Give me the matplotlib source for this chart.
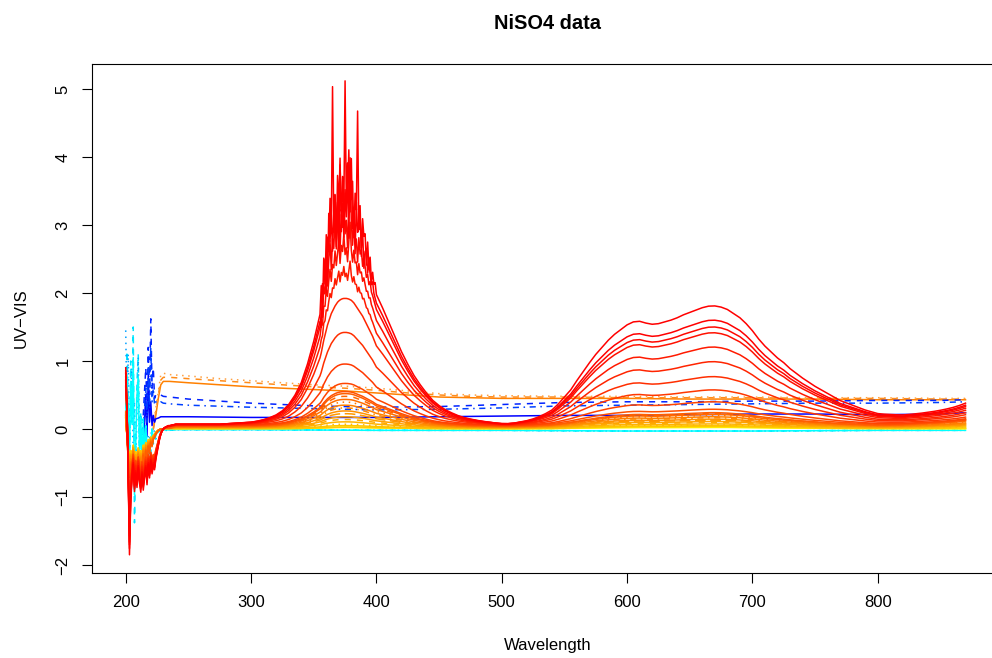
import numpy as np
import matplotlib
matplotlib.use("Agg")
import matplotlib.pyplot as plt

plt.rcParams['font.family'] = ['Liberation Sans', 'DejaVu Sans']

# ---------------- data ----------------
# wavelength grids
wl_left = np.arange(200, 236)                      # 1 nm steps, 200..235
wl_mid = np.concatenate([np.arange(240, 355, 5),   # 240..350
                         np.arange(355, 401),      # 355..400 (1 nm)
                         np.arange(405, 871, 5)])  # 405..870

# band near 375 nm (normalised)
band1_rise = [0, 0, 0, 0, 0, 0, 0, 0, 0.002, 0.004, 0.006, 0.008, 0.01, 0.015, 0.022,
              0.032, 0.045, 0.065, 0.095, 0.14, 0.2, 0.29, 0.40]
band1_top = [0.53, 0.57, 0.62, 0.67, 0.71, 0.75, 0.79, 0.82, 0.85, 0.88, 0.90, 0.92, 0.94,
             0.955, 0.97, 0.98, 0.988, 0.994, 0.998, 1.0, 1.0, 1.0, 0.998, 0.995, 0.99,
             0.985, 0.975, 0.965, 0.95, 0.935, 0.92, 0.905, 0.89, 0.875, 0.86, 0.84, 0.82,
             0.80, 0.78, 0.76, 0.74, 0.72, 0.70, 0.675, 0.65, 0.625]
band1_fall = [0.56, 0.49, 0.42, 0.35, 0.29, 0.235, 0.19, 0.15, 0.115, 0.09, 0.07, 0.055,
              0.042, 0.032, 0.025, 0.019, 0.014, 0.01, 0.006, 0.003]
# double band 600-700 nm (normalised, 500..870 step 5)
band2 = [0.0, 0.005, 0.01, 0.02, 0.03, 0.045, 0.065, 0.09, 0.12, 0.17, 0.23, 0.29, 0.37,
         0.445, 0.52, 0.59, 0.65, 0.71, 0.76, 0.80, 0.84, 0.865, 0.87, 0.855, 0.845, 0.85,
         0.865, 0.88, 0.90, 0.925, 0.945, 0.965, 0.985, 0.998, 1.0, 0.99, 0.97, 0.935, 0.9,
         0.85, 0.79, 0.72, 0.66, 0.61, 0.56, 0.52, 0.47, 0.43, 0.39, 0.355, 0.32, 0.29,
         0.26, 0.23, 0.2, 0.18, 0.16, 0.14, 0.12, 0.105, 0.09, 0.08, 0.07, 0.06, 0.05,
         0.045, 0.04, 0.035, 0.03, 0.025, 0.02, 0.015, 0.01, 0.005, 0.0]
# rise at the red end (800..870 step 5)
tail = [0.0, 0.03, 0.07, 0.11, 0.16, 0.21, 0.27, 0.33, 0.40, 0.47, 0.55, 0.64, 0.74, 0.86, 1.0]

# detector noise on the saturated 375 nm band (355..400, 1 nm)
noise_a = [0.0, 0.3, -0.2, 0.4, -0.1, 0.5, -0.3, 0.6, 0.1, 0.4, -0.2, 0.3, 0.5, -0.3, 0.7,
           0.2, 0.9, -0.2, 0.6, 0.1, 2.0, 0.2, 0.8, -0.3, 0.9, 0.3, 0.6, -0.2, 0.5, 0.3, 1.8,
           0.1, 0.5, -0.2, 0.4, 0.2, 0.3, -0.1, 0.3, 0.0, 0.2, -0.1, 0.1, 0.0, 0.1, 0.0]
noise_b = [0.0, -0.2, 0.3, 0.1, 0.4, -0.2, 0.5, 0.2, 0.9, 0.3, 2.4, 0.2, 0.7, 0.1, 0.5,
           -0.2, 1.0, 0.3, 0.4, -0.1, 0.6, 0.2, 0.5, 1.2, 0.3, 1.1, 0.1, 0.4, -0.2, 0.6, 0.2,
           0.3, 0.5, 0.1, 0.4, -0.1, 0.2, 0.3, 0.0, 0.2, 0.1, 0.0, 0.1, 0.0, 0.0, 0.0]
noise_c = [0.0, 0.1, -0.1, 0.2, 0.0, 0.3, -0.1, 0.2, 0.4, -0.1, 0.3, 0.1, 0.5, 0.0, 0.3,
           0.6, -0.1, 0.4, 0.2, 0.7, 0.1, 0.3, -0.1, 0.5, 1.1, 0.3, 0.0, 0.4, 0.1, 0.2, -0.1,
           0.3, 0.1, 0.2, 0.0, 0.2, 0.1, 0.0, 0.1, 0.0, 0.1, 0.0, 0.0, 0.0, 0.0, 0.0]

# noisy far-UV region (200..235 nm)
red_left = [0.9, 0.35, -0.7, -1.85, -1.05, -0.75, -0.55, -0.92, -0.68, -0.86, -0.6, -0.8,
            -0.93, -0.7, -0.9, -0.72, -0.6, -0.82, -0.55, -0.72, -0.5, -0.66, -0.55, -0.6,
            -0.45, -0.35, -0.25, -0.15, -0.08, -0.03, 0.0, 0.02, 0.03, 0.04, 0.05, 0.05]
yellow_left = [0.2, -0.1, -0.35, -0.55, -0.4, -0.5, -0.3, -0.58, -0.42, -0.55, -0.35, -0.5,
               -0.4, -0.48, -0.3, -0.42, -0.25, -0.35, -0.2, -0.28, -0.15, -0.2, -0.12,
               -0.1, -0.06, -0.04, -0.02, -0.01, 0.0, 0.0, 0.0, 0.01, 0.01, 0.01, 0.01, 0.01]
cyan_left = [0.3, 1.15, 0.4, -0.6, 1.0, 0.1, 1.5, -1.38, -0.3, 0.7, 1.1, -0.55, 0.25, -0.75,
             0.15, -0.45, 0.05, -0.35, -0.5, -0.2, -0.38, 0.0, -0.22, -0.1, -0.15, -0.06,
             -0.05, -0.03, -0.02, -0.02, -0.02, -0.02, -0.02, -0.02, -0.02, -0.02]
sky_left = [1.45, 0.2, 1.1, -0.3, 0.5, 0.9, -0.2, 0.4, -0.6, 0.3, 1.05, -0.3, 0.2, -0.4, 0.1,
            -0.3, 0.0, -0.2, -0.1, -0.15, -0.05, -0.08, -0.03, -0.03, -0.02, -0.02, -0.02,
            -0.02, -0.02, -0.02, -0.02, -0.02, -0.02, -0.02, -0.02, -0.02]

# red spectra (largest first)
red_A1 = [3.05, 2.85, 2.7, 2.45, 2.15, 1.86, 1.36, 0.9, 0.62, 0.5]
red_A2 = [1.74, 1.53, 1.43, 1.35, 1.14, 0.93, 0.71, 0.52, 0.35, 0.24]
red_T = [0.31, 0.28, 0.26, 0.24, 0.21, 0.18, 0.15, 0.12, 0.1, 0.08]
red_base = [0.07, 0.07, 0.07, 0.065, 0.065, 0.06, 0.06, 0.055, 0.05, 0.05]
red_left_scale = [1.0, 0.95, 0.9, 0.92, 0.85, 0.8, 0.78, 0.75, 0.7, 0.68]
red_noise_key = ['a', 'b', 'c', 'c', 'c', None, None, None, None, None]
red_noise_scale = [1.0, 1.0, 1.0, 0.5, 0.25, 0, 0, 0, 0, 0]
red_colors = ['#FF0000', '#FF0000', '#FF0800', '#FF1000', '#FF1A00', '#FF2400', '#FF2E00',
              '#FF3800', '#FF4400', '#FF5000']
red_styles = ['solid'] * 10

# orange / yellow spectra
orange_A1 = [0.48, 0.44, 0.40, 0.36, 0.32, 0.28, 0.24, 0.20, 0.16, 0.12, 0.09, 0.06, 0.04, 0.02]
orange_A2 = [0.20, 0.19, 0.18, 0.165, 0.15, 0.135, 0.12, 0.105, 0.09, 0.075, 0.06, 0.05, 0.04, 0.03]
orange_T = [0.1, 0.09, 0.08, 0.07, 0.06, 0.05, 0.05, 0.04, 0.04, 0.03, 0.03, 0.02, 0.02, 0.01]
orange_base = [0.04, 0.04, 0.035, 0.035, 0.03, 0.03, 0.025, 0.025, 0.02, 0.02, 0.015, 0.01,
               0.01, 0.005]
orange_left_scale = [1.3, 1.25, 1.2, 1.15, 1.1, 1.05, 1.0, 1.0, 0.95, 0.9, 0.9, 0.85, 0.8, 0.8]
orange_colors = ['#FF5E00', '#FF6600', '#FF6E00', '#FF7700', '#FF8000', '#FF8800', '#FF9100',
                 '#FF9900', '#FFA200', '#FFAA00', '#FFB300', '#FFBB00', '#FFC400', '#FFCC00']
orange_styles = ['solid', 'dashed', 'solid', 'dotted', 'solid', 'dotdash', 'solid',
                 'longdash', 'solid', 'dashed', 'solid', 'dotted', 'solid', 'solid']

# yellow and cyan near-zero spectra
yellow_colors = ['#FFE600', '#FFFF00']
cyan_mid_wl = [240, 300, 400, 500, 600, 700, 800, 870]
cyan_mid = [-0.01, -0.01, -0.02, -0.02, -0.03, -0.03, -0.02, -0.02]

# flat blue spectra
blue_wl = [214, 216, 217, 218, 219, 220, 221, 222, 223, 224, 226, 228, 230, 235, 250, 300,
           350, 400, 450, 500, 550, 600, 650, 700, 750, 800, 850, 870]
blue_solid = [-0.3, 0.5, -0.1, 0.8, 0.1, 0.4, 0.05, 0.2, 0.1, 0.15, 0.16, 0.18, 0.18, 0.18,
              0.18, 0.17, 0.17, 0.17, 0.18, 0.19, 0.2, 0.2, 0.21, 0.22, 0.22, 0.21, 0.22, 0.24]
blue_dashed = [0.2, 0.9, 0.3, 1.2, 0.5, 1.62, 0.6, 0.9, 0.45, 0.5, 0.48, 0.5, 0.48, 0.47,
               0.44, 0.38, 0.34, 0.32, 0.33, 0.36, 0.39, 0.4, 0.4, 0.41, 0.41, 0.42, 0.42, 0.43]
blue_dotdash = [0.0, 0.6, 0.1, 0.9, 0.3, 1.2, 0.4, 0.6, 0.35, 0.4, 0.38, 0.4, 0.38, 0.37,
                0.35, 0.32, 0.3, 0.28, 0.29, 0.31, 0.34, 0.35, 0.36, 0.37, 0.38, 0.38, 0.39, 0.4]

# flat orange spectra
oflat_wl = [222, 224, 226, 228, 230, 235, 250, 275, 300, 325, 350, 375, 400, 425, 450, 475,
            500, 550, 600, 650, 700, 750, 800, 850, 870]
oflat_dotted = [0.05, 0.3, 0.55, 0.8, 0.82, 0.8, 0.78, 0.74, 0.71, 0.68, 0.65, 0.63, 0.6,
                0.56, 0.52, 0.5, 0.49, 0.48, 0.48, 0.47, 0.47, 0.46, 0.46, 0.45, 0.45]
oflat_dashed = [0.0, 0.25, 0.5, 0.72, 0.76, 0.76, 0.74, 0.71, 0.68, 0.65, 0.62, 0.6, 0.57,
                0.53, 0.5, 0.48, 0.47, 0.47, 0.46, 0.46, 0.46, 0.45, 0.45, 0.44, 0.44]
oflat_solid = [0.0, 0.2, 0.45, 0.65, 0.7, 0.7, 0.68, 0.65, 0.62, 0.6, 0.58, 0.56, 0.53, 0.5,
               0.47, 0.46, 0.45, 0.45, 0.45, 0.44, 0.44, 0.44, 0.43, 0.43, 0.43]

x_ticks = [200, 300, 400, 500, 600, 700, 800]
y_ticks = [-2, -1, 0, 1, 2, 3, 4, 5]

# ---------------- assemble profiles on the grid ----------------
n_mid = len(wl_mid)
s1 = np.concatenate([band1_rise, band1_top, band1_fall, np.zeros(n_mid - 23 - 46 - 20)])
s2 = np.concatenate([np.zeros(n_mid - len(band2)), band2])
s3 = np.concatenate([np.zeros(n_mid - len(tail)), tail])
noise_map = {'a': noise_a, 'b': noise_b, 'c': noise_c}
x_full = np.concatenate([wl_left, wl_mid])

LS = {'solid': '-', 'dashed': (0, (4, 4)), 'dotted': (0, (1, 3)),
      'dotdash': (0, (1, 3, 4, 3)), 'longdash': (0, (7, 3))}
LW = 1.1

fig = plt.figure(figsize=(9.92, 6.58), dpi=100)
ax = fig.add_axes([92 / 992, 1 - 573 / 658, 911 / 992, 509 / 658])

# flat lines
ax.plot(oflat_wl, oflat_solid, color='#FF8000', lw=LW, ls=LS['solid'])
ax.plot(oflat_wl, oflat_dashed, color='#FF8C1A', lw=LW, ls=LS['dashed'])
ax.plot(oflat_wl, oflat_dotted, color='#FFA040', lw=LW, ls=LS['dotted'])
ax.plot(blue_wl, blue_solid, color='#0000FF', lw=LW, ls=LS['solid'])
ax.plot(blue_wl, blue_dashed, color='#0022FF', lw=LW, ls=LS['dashed'])
ax.plot(blue_wl, blue_dotdash, color='#0040FF', lw=LW, ls=LS['dotdash'])

# cyan lines
ax.plot(np.concatenate([wl_left, cyan_mid_wl]), np.concatenate([cyan_left, cyan_mid]),
        color='#00E5FF', lw=LW, ls=LS['dashed'])
ax.plot(np.concatenate([wl_left, cyan_mid_wl]), np.concatenate([sky_left, cyan_mid]),
        color='#00A0FF', lw=LW, ls=LS['dotted'])
ax.plot(np.concatenate([wl_left, cyan_mid_wl]),
        np.concatenate([np.array(cyan_left) * 0.7, cyan_mid]),
        color='#00FFFF', lw=LW, ls=LS['solid'])

# yellow lines
for k, c in enumerate(yellow_colors):
    y = np.concatenate([np.array(yellow_left) * (0.8 + 0.2 * k),
                        0.005 + 0.02 * s1 + 0.02 * s2])
    ax.plot(x_full, y, color=c, lw=LW, ls=LS['solid'])

# orange family (smallest first)
for i in range(len(orange_A1) - 1, -1, -1):
    y_mid = orange_base[i] + orange_A1[i] * s1 + orange_A2[i] * s2 + orange_T[i] * s3
    y_left = np.array(yellow_left) * orange_left_scale[i]
    ax.plot(x_full, np.concatenate([y_left, y_mid]), color=orange_colors[i], lw=LW,
            ls=LS[orange_styles[i]])

# red family (smallest first)
for i in range(len(red_A1) - 1, -1, -1):
    y_mid = red_base[i] + red_A1[i] * s1 + red_A2[i] * s2 + red_T[i] * s3
    if red_noise_key[i] is not None:
        nz = np.zeros(n_mid)
        nz[23:69] = np.array(noise_map[red_noise_key[i]]) * red_noise_scale[i]
        y_mid = y_mid + nz
    y_left = np.array(red_left) * red_left_scale[i]
    ax.plot(x_full, np.concatenate([y_left, y_mid]), color=red_colors[i], lw=LW,
            ls=LS[red_styles[i]])

# ---------------- axes styling (R base graphics look) ----------------
ax.set_xlim(173.1, 899.9)
ax.set_ylim(-2.118, 5.368)
ax.set_xticks(x_ticks)
ax.set_yticks(y_ticks)
ax.spines['right'].set_visible(False)
for s in ['left', 'bottom', 'top']:
    ax.spines[s].set_linewidth(0.8)
    ax.spines[s].set_color('black')
ax.tick_params(axis='both', direction='out', length=7.5, width=0.8, labelsize=12,
               pad=8, colors='black')
for lab in ax.get_yticklabels():
    lab.set_rotation(90)
    lab.set_va('center')

fig.text(547.5 / 992, 1 - 29 / 658, 'NiSO4 data', ha='center', va='baseline',
         fontsize=14.4, fontweight='bold')
fig.text(547.5 / 992, 1 - 650 / 658, 'Wavelength', ha='center', va='baseline', fontsize=12)
fig.text(21 / 992, 1 - 318.5 / 658, 'UV\u2212VIS', ha='center', va='center', rotation=90,
         fontsize=12)

fig.savefig('out.png', dpi=100)
